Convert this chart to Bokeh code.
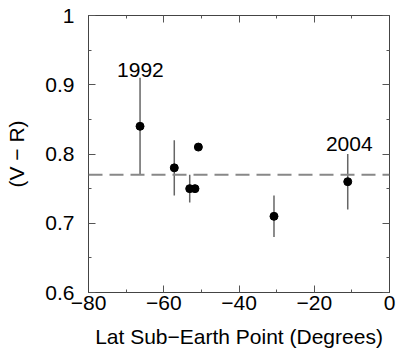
from bokeh.plotting import figure
from bokeh.models import (LinearAxis, FixedTicker, CustomJSTickFormatter, Span,
                          ColumnDataSource, Range1d, Label)
from bokeh.embed import file_html
from bokeh.resources import INLINE

# Data
lat = [-66.3, -57.2, -53.1, -51.7, -50.8, -30.7, -11.1]
vr = [0.84, 0.78, 0.75, 0.75, 0.81, 0.71, 0.76]
vr_hi = [0.91, 0.82, 0.77, 0.75, 0.81, 0.74, 0.80]
vr_lo = [0.77, 0.74, 0.73, 0.75, 0.81, 0.68, 0.72]
mean_vr = 0.77
x_ticks = [-80, -60, -40, -20, 0]
x_minor = [-70, -50, -30, -10]
y_ticks = [0.6, 0.7, 0.8, 0.9, 1.0]
y_minor = [0.65, 0.75, 0.85, 0.95]
annotations = [("1992", -66.2, 0.921), ("2004", -10.7, 0.814)]

FONT = "Liberation Sans"
FS = "21px"

p = figure(width=396, height=353, output_backend="svg", toolbar_location=None,
           x_range=Range1d(-80, 0), y_range=Range1d(0.6, 1.0),
           x_axis_location=None, y_axis_location=None,
           min_border_left=88, min_border_right=7, min_border_top=15, min_border_bottom=61)
p.grid.visible = False
p.background_fill_color = "white"
p.border_fill_color = "white"
p.outline_line_color = "#444444"
p.outline_line_width = 1

xt = FixedTicker(ticks=x_ticks, minor_ticks=x_minor)
yt = FixedTicker(ticks=y_ticks, minor_ticks=y_minor)
xfmt = CustomJSTickFormatter(code="return (tick < 0 ? '\u2212' + Math.abs(tick) : '' + tick);")
yfmt = CustomJSTickFormatter(code="return (Math.abs(tick - 1) < 1e-9 ? '1' : tick.toFixed(1));")

def style(ax, labels=True):
    ax.major_tick_in = 7
    ax.major_tick_out = 0
    ax.minor_tick_in = 3
    ax.minor_tick_out = 0
    ax.major_tick_line_color = "#555555"
    ax.minor_tick_line_color = "#555555"
    ax.axis_line_color = "#444444"
    ax.major_label_text_font = FONT
    ax.major_label_text_font_size = FS
    ax.major_label_text_color = "black"
    ax.axis_label_text_font = FONT
    ax.axis_label_text_font_size = FS
    ax.axis_label_text_font_style = "normal"
    ax.axis_label_text_color = "black"
    if not labels:
        ax.major_label_text_alpha = 0
        ax.major_label_text_font_size = "1px"

bx = LinearAxis(ticker=xt, formatter=xfmt, axis_label="Lat Sub\u2212Earth Point (Degrees)")
style(bx)
bx.major_label_standoff = 3
bx.axis_label_standoff = 12
p.add_layout(bx, "below")

ly = LinearAxis(ticker=yt, formatter=yfmt, axis_label="(V \u2212 R)")
style(ly)
ly.major_label_standoff = 14
ly.axis_label_standoff = 14
p.add_layout(ly, "left")

tx = LinearAxis(ticker=xt, formatter=xfmt)
style(tx, labels=False)
p.add_layout(tx, "above")

ry = LinearAxis(ticker=yt, formatter=yfmt)
style(ry, labels=False)
p.add_layout(ry, "right")

p.add_layout(Span(location=mean_vr, dimension="width", line_color="#888888",
                  line_width=2, line_dash="14 7"))

src = ColumnDataSource(dict(x=lat, y=vr, hi=vr_hi, lo=vr_lo))
p.segment(x0="x", y0="lo", x1="x", y1="hi", source=src, line_color="#666666", line_width=1.5)
p.scatter(x="x", y="y", source=src, size=8, fill_color="black", line_color="black")

for txt, x, y in annotations:
    p.add_layout(Label(x=x, y=y, text=txt, text_align="center", text_baseline="alphabetic",
                       text_font=FONT, text_font_size=FS, text_color="black"))

open("out.html", "w").write(file_html(p, INLINE))
